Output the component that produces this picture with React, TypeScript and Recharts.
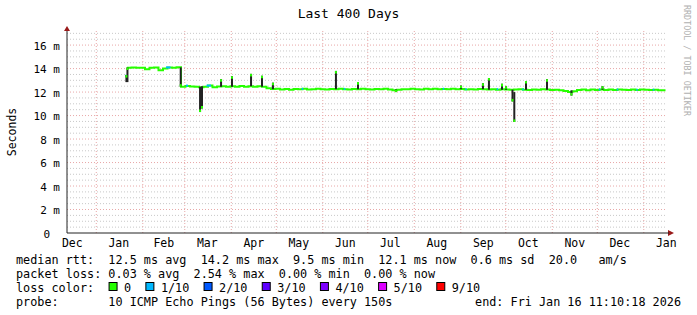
import React from 'react';
import { ComposedChart, Line, XAxis, YAxis, ReferenceLine } from 'recharts';

const FONT = '"DejaVu Sans Mono", monospace';

// ---- axis / grid values (days since start of the 400-day window) ----
const monthStartDays = [19.53, 50.53, 78.53, 109.53, 139.53, 170.53, 200.53, 231.53, 262.53, 292.53, 323.53, 353.53, 384.53];
const monthLabelDays = [3.53, 34.53, 64.53, 93.53, 124.53, 154.53, 185.53, 215.53, 246.53, 277.53, 307.53, 338.53, 368.53, 399.53];
const monthLabels = ['Dec', 'Jan', 'Feb', 'Mar', 'Apr', 'May', 'Jun', 'Jul', 'Aug', 'Sep', 'Oct', 'Nov', 'Dec', 'Jan'];
const yMajorTicks = [0, 2, 4, 6, 8, 10, 12, 14, 16];
const yMinorLines = [0.5, 1, 1.5, 2.5, 3, 3.5, 4.5, 5, 5.5, 6.5, 7, 7.5, 8.5, 9, 9.5, 10.5, 11, 11.5, 12.5, 13, 13.5, 14.5, 15, 15.5, 16.5, 17];

// ---- median rtt (ms) ----
const sampleDays = [
  40, 43, 46, 49, 52, 55, 58, 61, 64, 67, 70, 73, 76, 79, 82, 85, 88, 91, 94, 97,
  100, 103, 106, 109, 112, 115, 118, 121, 124, 127, 130, 133, 136, 139, 142, 145, 148, 151, 154, 157,
  160, 163, 166, 169, 172, 175, 178, 181, 184, 187, 190, 193, 196, 199, 202, 205, 208, 211, 214, 217,
  220, 223, 226, 229, 232, 235, 238, 241, 244, 247, 250, 253, 256, 259, 262, 265, 268, 271, 274, 277,
  280, 283, 286, 289, 292, 295, 298, 301, 304, 307, 310, 313, 316, 319, 322, 325, 328, 331, 334, 337,
  340, 343, 346, 349, 352, 355, 358, 361, 364, 367, 370, 373, 376, 379, 382, 385, 388, 391, 394, 397, 399,
];
const medianRtt = [
  14.08, 14.10, 14.07, 14.08, 13.95, 14.08, 14.10, 13.85, 14.00, 14.10, 14.08, 14.12, 12.45, 12.52, 12.48, 12.45, 12.40, 12.45, 12.55, 12.42,
  12.48, 12.50, 12.45, 12.50, 12.45, 12.52, 12.45, 12.50, 12.46, 12.50, 12.45, 12.32, 12.26, 12.28, 12.22, 12.26, 12.20, 12.27, 12.24, 12.28,
  12.22, 12.25, 12.29, 12.24, 12.21, 12.26, 12.25, 12.29, 12.23, 12.21, 12.26, 12.24, 12.28, 12.25, 12.21, 12.26, 12.23, 12.28, 12.22, 12.16,
  12.20, 12.25, 12.23, 12.28, 12.25, 12.22, 12.28, 12.25, 12.29, 12.23, 12.26, 12.25, 12.28, 12.23, 12.26, 12.22, 12.25, 12.21, 12.26, 12.23,
  12.21, 12.25, 12.20, 12.24, 12.22, 12.19, 12.22, 12.24, 12.20, 12.18, 12.22, 12.19, 12.23, 12.21, 12.18, 12.20, 12.16, 12.10, 12.00, 12.08,
  12.18, 12.21, 12.16, 12.21, 12.18, 12.22, 12.17, 12.21, 12.18, 12.22, 12.20, 12.17, 12.21, 12.18, 12.22, 12.20, 12.17, 12.20, 12.16, 12.15, 12.15,
];

// ---- short excursions (smoke) : day, from (ms), to (ms) ----
const spikeDays = [39.6, 40.3, 75.8, 88.7, 90.0, 102.7, 110.0, 122.7, 130.0, 137.3, 179.3, 194.0, 219.3, 262.7, 277.3, 281.3, 290.0, 292.7, 297.0, 298.2, 306.0, 320.0, 336.3, 357.0];
const spikeFrom = [12.85, 12.85, 14.10, 12.45, 12.50, 12.45, 12.45, 12.50, 12.45, 12.25, 12.25, 12.25, 12.25, 12.25, 12.25, 12.20, 12.20, 12.20, 12.20, 12.00, 12.20, 12.20, 12.15, 12.20];
const spikeTo = [13.45, 14.10, 12.45, 10.30, 10.60, 13.10, 13.35, 13.55, 13.40, 12.80, 13.80, 12.85, 12.00, 12.55, 12.75, 13.20, 12.70, 12.50, 11.20, 9.45, 12.95, 13.10, 11.70, 12.50];

// ---- periods with 1/10 packet loss ----
const blueFrom = [38.8, 66.0, 79.3, 93.0, 156.5, 184.5, 250.5, 265.5, 286.5, 303.5, 354.5, 366.5, 379.5, 390.5];
const blueTo = [39.6, 69.0, 80.7, 96.0, 157.5, 185.5, 251.5, 266.5, 287.5, 304.5, 355.5, 367.5, 380.5, 391.5];
const blueVal = [13.40, 14.10, 12.55, 12.55, 12.27, 12.27, 12.28, 12.25, 12.25, 12.22, 12.22, 12.22, 12.20, 12.20];

// ---- legend ----
const lossLabels = ['0', '1/10', '2/10', '3/10', '4/10', '5/10', '9/10'];
const lossColors = ['#26ff00', '#00b8ff', '#0059ff', '#5e00ff', '#7e00ff', '#dd00ff', '#ff0000'];
const legendLines = [
  'median rtt:  12.5 ms avg  14.2 ms max  9.5 ms min  12.1 ms now  0.6 ms sd  20.0   am/s',
  'packet loss: 0.03 % avg  2.54 % max  0.00 % min  0.00 % now',
  'loss color:',
  'probe:       10 ICMP Echo Pings (56 Bytes) every 150s',
];
const endText = 'end: Fri Jan 16 11:10:18 2026';

const data = sampleDays.map((d, i) => ({ day: d, median: medianRtt[i] }));

const GREEN = '#26ff00';
const MINOR = '#c8c8c8';
const MAJOR = '#e8a8a8';
const AXIS = '#222';

const XTick = (props: any) => {
  const { x, y, index } = props;
  return (
    <text x={x} y={y} dy={13.5} textAnchor="middle" fontFamily={FONT} fontSize={11.5} fill="#000">
      {monthLabels[index]}
    </text>
  );
};

const YTick = (props: any) => {
  const { x, y, payload } = props;
  const v = payload.value;
  return (
    <text x={x} y={y} dx={v === 0 ? -17 : -7} dy={4.5} textAnchor="end" fontFamily={FONT} fontSize={11} fill="#000">
      {v === 0 ? '0' : `${v} m`}
    </text>
  );
};

const CH = 7.12;
const LEG_X = 16;

export default function App() {
  const lineBase = [263.5, 277.5, 291.5, 305.5];
  const items: { bx: number; tx: number }[] = [];
  let bx = LEG_X + 13 * CH;
  lossLabels.forEach((l) => {
    items.push({ bx, tx: bx + 15.5 });
    bx = bx + 15.5 + l.length * CH + 14.2;
  });

  return (
    <div style={{ position: 'absolute', left: 0, top: 0, width: 697, height: 315, background: '#fff' }}>
      <ComposedChart
        width={697}
        height={315}
        data={data}
        margin={{ top: 31, right: 30, bottom: 62, left: 7 }}
      >
        <XAxis
          dataKey="day"
          type="number"
          domain={[0, 400]}
          ticks={monthLabelDays}
          interval={0}
          tick={<XTick />}
          tickLine={false}
          tickSize={0}
          tickMargin={0}
          height={20}
          axisLine={{ stroke: AXIS, strokeWidth: 1 }}
          allowDataOverflow
        />
        <YAxis
          type="number"
          domain={[0, 17.2]}
          ticks={yMajorTicks}
          interval={0}
          tick={<YTick />}
          tickLine={false}
          tickSize={0}
          tickMargin={0}
          width={60}
          axisLine={{ stroke: AXIS, strokeWidth: 1 }}
          allowDataOverflow
        />
        {yMinorLines.map((v) => (
          <ReferenceLine key={'mi' + v} y={v} stroke={MINOR} strokeDasharray="1 2" />
        ))}
        {yMajorTicks.filter((v) => v > 0).map((v) => (
          <ReferenceLine key={'ma' + v} y={v} stroke={MAJOR} strokeDasharray="1 2" />
        ))}
        {monthStartDays.map((d) => (
          <ReferenceLine key={'m' + d} x={d} stroke={MAJOR} strokeDasharray="1 2" />
        ))}
        <Line
          type="stepAfter"
          dataKey="median"
          stroke={GREEN}
          strokeWidth={2}
          dot={false}
          activeDot={false}
          isAnimationActive={false}
        />
        {blueFrom.map((d, i) => (
          <ReferenceLine
            key={'b' + i}
            segment={[{ x: d, y: blueVal[i] }, { x: blueTo[i], y: blueVal[i] }]}
            stroke="#00b8ff"
            strokeWidth={2}
          />
        ))}
        {spikeDays.map((d, i) => (
          <ReferenceLine
            key={'s' + i}
            segment={[{ x: d, y: spikeFrom[i] }, { x: d, y: spikeTo[i] }]}
            stroke="#222"
            strokeWidth={2}
          />
        ))}
        {spikeDays.map((d, i) => {
          const dir = spikeTo[i] > spikeFrom[i] ? -0.22 : 0.22;
          return (
            <ReferenceLine
              key={'t' + i}
              segment={[{ x: d, y: spikeTo[i] + dir }, { x: d, y: spikeTo[i] }]}
              stroke={GREEN}
              strokeWidth={2}
            />
          );
        })}
      </ComposedChart>
      <svg
        width={697}
        height={315}
        style={{ position: 'absolute', left: 0, top: 0, pointerEvents: 'none' }}
      >
        <text x={348.5} y={18} textAnchor="middle" fontFamily={FONT} fontSize={13} fill="#000">
          Last 400 Days
        </text>
        <text transform="translate(16,132) rotate(-90)" textAnchor="middle" fontFamily={FONT} fontSize={11.5} fill="#000">
          Seconds
        </text>
        <text transform="translate(684,5) rotate(90)" textAnchor="start" fontFamily={FONT} fontSize={8.4} fill="#b0b0b0">
          RRDTOOL / TOBI OETIKER
        </text>
        <polygon points="64,31 70,31 67,26" fill="#991a1a" />
        <polygon points="668,230 668,236 674,233" fill="#991a1a" />
        <line x1={667} y1={233} x2={669} y2={233} stroke={AXIS} />
        {legendLines.map((t, i) => (
          <text
            key={'l' + i}
            x={LEG_X}
            y={lineBase[i]}
            xmlSpace="preserve"
            style={{ whiteSpace: 'pre' }}
            fontFamily={FONT}
            fontSize={11.8}
            fill="#000"
          >
            {t}
          </text>
        ))}
        {items.map((it, i) => (
          <g key={'lc' + i}>
            <rect x={it.bx + 0.5} y={282.5} width={8} height={8} fill={lossColors[i]} stroke="#000" strokeWidth={1} />
            <text x={it.tx} y={lineBase[2]} fontFamily={FONT} fontSize={11.8} fill="#000">
              {lossLabels[i]}
            </text>
          </g>
        ))}
        <text x={681} y={lineBase[3]} textAnchor="end" fontFamily={FONT} fontSize={11.8} fill="#000">
          {endText}
        </text>
      </svg>
    </div>
  );
}
